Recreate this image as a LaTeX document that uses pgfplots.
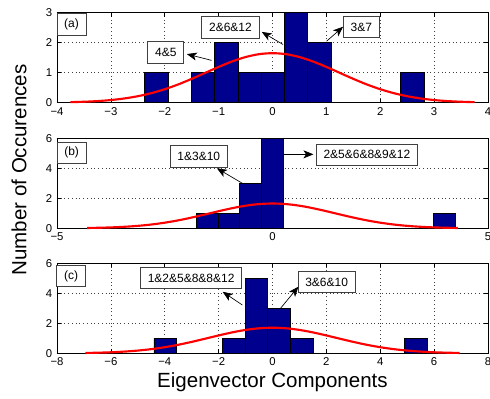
\documentclass[border=0pt]{standalone}
\usepackage{pgfplots}
\pgfplotsset{compat=1.18}
\usepackage{fontspec}
\setmainfont{Liberation Sans}
\usetikzlibrary{arrows.meta,calc}
\definecolor{barblue}{RGB}{0,0,143}
\tikzset{
  box/.style={draw=black!75, line width=0.55pt, fill=white, font=\fontsize{9}{10}\selectfont, inner xsep=5.5pt, minimum height=16pt},
  arr/.style={-{Stealth[length=7.5pt,width=6pt,inset=2pt]}, line width=0.5pt, black},
}
\pgfplotsset{
  every axis/.append style={
    scale only axis, width=323.25pt, height=67.5pt,
    axis line style={line width=0.6pt},
    tick style={line width=0.5pt, black},
    major tick length=3pt, tick align=inside,
    xtick pos=both, ytick pos=both,
    grid=major,
    major grid style={black!75, line width=0.4pt, dash pattern=on 0.6pt off 2.2pt},
    tick label style={font=\fontsize{8.5}{10}\selectfont},
    /pgf/number format/assume math mode=true,
    clip=false,
  },
  bars/.style={ybar interval, fill=barblue, draw=black, line width=0.5pt},
  curve/.style={red, line width=1.6pt, smooth, mark=none},
}
\begin{document}
\begin{tikzpicture}
\path[use as bounding box] (-42.75pt,-34.28pt) rectangle ++(367.5pt,299.25pt);
% ---------- (a)
\begin{axis}[name=a, at={(0,187.95pt)},
  xmin=-4, xmax=4, ymin=0, ymax=3,
  xtick={-4,-3,...,4}, xticklabels={−4,−3,−2,−1,0,1,2,3,4},
  ytick={0,1,2,3}]
\addplot[bars] coordinates {(-2.370,1) (-1.938,0) (-1.506,1) (-1.074,2) (-0.642,1) (-0.210,1) (0.222,3) (0.654,2) (1.086,0) (1.518,0) (1.950,0) (2.382,1) (2.814,0)};
\addplot[curve] coordinates {(-3.75,0.017) (-3.5,0.031) (-3.25,0.053) (-3,0.088) (-2.75,0.141) (-2.5,0.216) (-2.25,0.318) (-2,0.449) (-1.75,0.609) (-1.5,0.794) (-1.25,0.993) (-1,1.192) (-0.75,1.374) (-0.5,1.521) (-0.25,1.617) (0,1.65) (0.25,1.617) (0.5,1.521) (0.75,1.374) (1,1.192) (1.25,0.993) (1.5,0.794) (1.75,0.609) (2,0.449) (2.25,0.318) (2.5,0.216) (2.75,0.141) (3,0.088) (3.25,0.053) (3.5,0.031) (3.75,0.017)};
\node[box] at (axis cs:-3.73,2.61) {(a)};
\node[box] at (axis cs:-1.98,1.68) {4\&5};
\draw[arr] (axis cs:-1.13,1.41) -- (axis cs:-1.59,1.62);
\node[box] at (axis cs:-0.78,2.51) {2\&6\&12};
\draw[arr] (axis cs:0.195,1.94) -- (axis cs:-0.2,2.36);
\node[box] at (axis cs:1.65,2.52) {3\&7};
\draw[arr] (axis cs:1.005,2.05) -- (axis cs:1.31,2.53);
\end{axis}
% ---------- (b)
\begin{axis}[name=b, at={(0,93.75pt)},
  xmin=-5, xmax=5, ymin=0, ymax=6,
  xtick={-5,0,5}, xticklabels={−5,0,5},
  ytick={0,2,4,6},
  ylabel={Number of Occurences},
  ylabel style={font=\fontsize{15.4}{18}\selectfont, at={(axis description cs:-0.0882,0.648)}, anchor=center}]
\addplot[bars] coordinates {(-1.76,1) (-1.26,1) (-0.76,3) (-0.26,6) (0.24,0) (0.74,0) (1.24,0) (1.74,0) (2.24,0) (2.74,0) (3.24,0) (3.74,1) (4.24,0)};
\addplot[curve] coordinates {(-4.3,0.020) (-4,0.037) (-3.75,0.058) (-3.5,0.090) (-3.25,0.134) (-3,0.194) (-2.75,0.273) (-2.5,0.374) (-2.25,0.495) (-2,0.638) (-1.75,0.797) (-1.5,0.967) (-1.25,1.139) (-1,1.301) (-0.75,1.445) (-0.5,1.556) (-0.25,1.627) (0,1.651) (0.25,1.627) (0.5,1.556) (0.75,1.445) (1,1.301) (1.25,1.139) (1.5,0.967) (1.75,0.797) (2,0.638) (2.25,0.495) (2.5,0.374) (2.75,0.273) (3,0.194) (3.25,0.134) (3.5,0.090) (3.75,0.058) (4,0.037) (4.3,0.020)};
\node[box] at (axis cs:-4.66,5.05) {(b)};
\node[box] at (axis cs:-1.71,4.8) {1\&3\&10};
\draw[arr] (axis cs:-0.70,3.0) -- (axis cs:-1.29,4.0);
\node[box] at (axis cs:2.19,4.9) {2\&5\&6\&8\&9\&12};
\draw[arr] (axis cs:0.25,4.93) -- (axis cs:0.95,4.93);
\end{axis}
% ---------- (c)
\begin{axis}[name=c, at={(0,0)},
  xmin=-8, xmax=8, ymin=0, ymax=6,
  xtick={-8,-6,...,8}, xticklabels={−8,−6,−4,−2,0,2,4,6,8},
  ytick={0,2,4,6},
  xlabel={Eigenvector Components},
  xlabel style={font=\fontsize{15.4}{18}\selectfont, at={(axis description cs:0.5,0)}, anchor=base, yshift=-25.3pt}]
\addplot[bars] coordinates {(-4.40,1) (-3.555,0) (-2.71,0) (-1.865,1) (-1.02,5) (-0.175,3) (0.67,1) (1.515,0) (2.36,0) (3.205,0) (4.05,0) (4.895,1) (5.74,0)};
\addplot[curve] coordinates {(-6.95,0.022) (-6.5,0.038) (-6,0.067) (-5.5,0.113) (-5,0.181) (-4.5,0.277) (-4,0.405) (-3.5,0.567) (-3,0.760) (-2.5,0.972) (-2,1.190) (-1.5,1.392) (-1,1.558) (-0.5,1.666) (0,1.704) (0.5,1.666) (1,1.558) (1.5,1.392) (2,1.190) (2.5,0.972) (3,0.760) (3.5,0.567) (4,0.405) (4.5,0.277) (5,0.181) (5.5,0.113) (6,0.067) (6.5,0.038) (6.95,0.022)};
\node[box] at (axis cs:-7.48,5.15) {(c)};
\node[box] at (axis cs:-3.02,5.02) {1\&2\&5\&8\&8\&12};
\draw[arr] (axis cs:-1.12,3.22) -- (axis cs:-1.85,4.1);
\node[box] at (axis cs:2.01,4.74) {3\&6\&10};
\draw[arr] (axis cs:0.30,3.0) -- (axis cs:0.96,4.44);
\end{axis}
\end{tikzpicture}
\end{document}
